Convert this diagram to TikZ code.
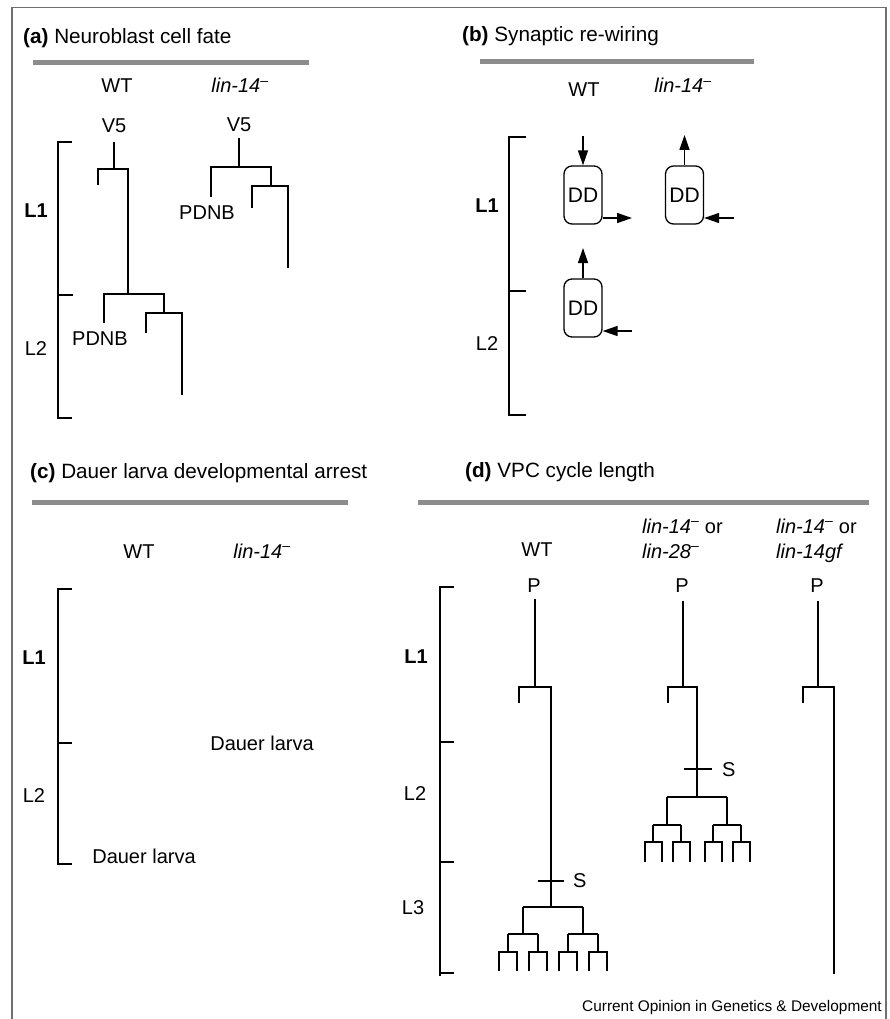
\documentclass[tikz,border=0pt]{standalone}
\usepackage{fontspec}
\setmainfont{Liberation Sans}
\usetikzlibrary{arrows.meta}
\definecolor{framec}{HTML}{707070}
\definecolor{barc}{HTML}{8C8C8C}
\newcommand{\mn}{\textsuperscript{–}}
\begin{document}
\begin{tikzpicture}[x=1pt,y=-1pt,
  lab/.style={font=\fontsize{20}{24}\selectfont, inner sep=0pt, anchor=base},
  ttl/.style={font=\fontsize{20.7}{24}\selectfont, inner sep=0pt, anchor=base west},
  tree/.style={line width=1.6pt},
  bar/.style={line width=5pt, draw=barc},
  brk/.style={line width=1.6pt},
  ddbox/.style={draw, line width=1.3pt, rounded corners=8pt, minimum width=38pt, minimum height=58pt, inner sep=0pt, font=\fontsize{21}{24}\selectfont},
  arr/.style={line width=1.4pt, -{Triangle[length=15pt,width=10pt]}}
]
\useasboundingbox (0,0) rectangle (890,1019);
\fill[white] (0,0) rectangle (890,1019);
% frame
\draw[framec, line width=1.5pt] (12,1019) -- (12,7.5) -- (886,7.5) -- (886,1019);

% ================= panel a =================
\node[ttl] (ta) at (23,44) {\textbf{(a)} Neuroblast cell fate};
\draw[bar] (33,63) -- (309,63);
\node[lab] (wta) at (117,93) {WT};
\node[lab] (lina) at (240,93) {\textit{lin-14}\mn};
\node[lab] (v5a) at (114,133) {V5};
\node[lab] (v5b) at (239,132) {V5};
\draw[brk] (72,142) -- (58,142) -- (58,418) -- (72,418);
\draw[brk] (58,295) -- (73,295);
\node[lab, font=\bfseries\fontsize{20}{24}\selectfont] (l1a) at (36,217) {L1};
\node[lab] (l2a) at (36,355) {L2};
% WT tree
\draw[tree] (114,142) -- (114,169);
\draw[tree] (98,185) -- (98,169) -- (128,169) -- (128,294);
\draw[tree] (104,323) -- (104,294) -- (164,294) -- (164,313);
\draw[tree] (146,333) -- (146,313) -- (182,313) -- (182,395);
\node[lab] (pdnba) at (100,345) {PDNB};
% lin tree
\draw[tree] (239,138) -- (239,167);
\draw[tree] (211,197) -- (211,167) -- (271,167) -- (271,186);
\draw[tree] (252,208) -- (252,186) -- (288,186) -- (288,268);
\node[lab] (pdnbb) at (207,219) {PDNB};

% ================= panel b =================
\node[ttl] (tb) at (462,42) {\textbf{(b)} Synaptic re-wiring};
\draw[bar] (480,62) -- (754,62);
\node[lab] (wtb) at (584,97) {WT};
\node[lab] (linb) at (683,93) {\textit{lin-14}\mn};
\draw[brk] (526,137) -- (509,137) -- (509,415) -- (526,415);
\draw[brk] (509,291) -- (526,291);
\node[lab, font=\bfseries\fontsize{20}{24}\selectfont] (l1b) at (487,212) {L1};
\node[lab] (l2b) at (487,350) {L2};
\node[ddbox] (dd1) at (583,195) {DD};
\node[ddbox] (dd2) at (684.5,195) {DD};
\node[ddbox] (dd3) at (583,308) {DD};
\coordinate (a1s) at (583,136);
\coordinate (a1e) at (632,218);
\coordinate (a2e) at (684.5,135);
\coordinate (a2s) at (734,218);
\coordinate (a3e) at (583,248);
\coordinate (a3s) at (632,331);
\draw[arr] (a1s) -- (dd1.north);
\draw[arr] (dd1.east |- a1e) -- (a1e);
\draw[arr] (dd2.north) -- (a2e);
\draw[arr] (a2s) -- (dd2.east |- a2s);
\draw[arr] (dd3.north) -- (a3e);
\draw[arr] (a3s) -- (dd3.east |- a3s);

% ================= panel c =================
\node[ttl] (tc) at (30,478) {\textbf{(c)} Dauer larva developmental arrest};
\draw[bar] (32,502) -- (348,502);
\node[lab] (wtc) at (139,558) {WT};
\node[lab] (linc) at (262,558) {\textit{lin-14}\mn};
\draw[brk] (72,589) -- (58,589) -- (58,864) -- (72,864);
\draw[brk] (58,743) -- (72,743);
\node[lab, font=\bfseries\fontsize{20}{24}\selectfont] (l1c) at (34,664) {L1};
\node[lab] (l2c) at (34,802) {L2};
\node[lab] (dauer1) at (262,750) {Dauer larva};
\node[lab] (dauer2) at (144,863) {Dauer larva};

% ================= panel d =================
\node[ttl] (td) at (465,477) {\textbf{(d)} VPC cycle length};
\draw[bar] (418,502) -- (869,502);
\node[lab] (wtd) at (537,556) {WT};
\node[lab, anchor=base west] (lind1) at (642,533) {\textit{lin-14}\mn{} or};
\node[lab, anchor=base west] (lind2) at (642,558) {\textit{lin-28}\mn};
\node[lab, anchor=base west] (lind3) at (776,533) {\textit{lin-14}\mn{} or};
\node[lab, anchor=base west] (lind4) at (776,558) {\textit{lin-14gf}};
\node[lab] (p1) at (534,592) {P};
\node[lab] (p2) at (682,592) {P};
\node[lab] (p3) at (817,592) {P};
\draw[brk] (454,587) -- (440,587) -- (440,976) ;
\draw[brk] (440,973) -- (454,973);
\draw[brk] (440,742) -- (454,742);
\draw[brk] (440,862) -- (454,862);
\node[lab, font=\bfseries\fontsize{20}{24}\selectfont] (l1d) at (416,663) {L1};
\node[lab] (l2d) at (415,800) {L2};
\node[lab] (l3d) at (413,914) {L3};
% WT
\draw[tree] (535,599) -- (535,687);
\draw[tree] (519,703) -- (519,687) -- (551,687) -- (551,907);
\draw[tree] (538,881) -- (564,881);
\node[lab, anchor=base west] (s1) at (573,887) {S};
\begin{scope}[shift={(553,907)}]
  \draw[tree] (-30,0) -- (30,0);
  \foreach \a in {-30,30} {
    \draw[tree] (\a,0) -- (\a,27);
    \draw[tree] (\a-15,27) -- (\a+15,27);
    \foreach \b in {-15,15} {
      \draw[tree] (\a+\b,27) -- (\a+\b,45);
      \draw[tree] (\a+\b-9,64) -- (\a+\b-9,45) -- (\a+\b+9,45) -- (\a+\b+9,64);
    }
  }
\end{scope}
% lin-14 / lin-28
\draw[tree] (683,601) -- (683,687);
\draw[tree] (668,703) -- (668,687) -- (697,687) -- (697,797);
\draw[tree] (684,769) -- (712,769);
\node[lab, anchor=base west] (s2) at (722,776) {S};
\begin{scope}[shift={(697,797)}]
  \draw[tree] (-30,0) -- (30,0);
  \foreach \a in {-30,30} {
    \draw[tree] (\a,0) -- (\a,28);
    \draw[tree] (\a-14,28) -- (\a+14,28);
    \foreach \b in {-14,14} {
      \draw[tree] (\a+\b,28) -- (\a+\b,45);
      \draw[tree] (\a+\b-8,65) -- (\a+\b-8,45) -- (\a+\b+9,45) -- (\a+\b+9,65);
    }
  }
\end{scope}
% lin-14gf
\draw[tree] (818,601) -- (818,687);
\draw[tree] (803,703) -- (803,687) -- (834,687) -- (834,974);

\node[font=\fontsize{15.4}{18}\selectfont, inner sep=0pt, anchor=base east] (credit) at (882,1011) {Current Opinion in Genetics \& Development};
\end{tikzpicture}
\end{document}
